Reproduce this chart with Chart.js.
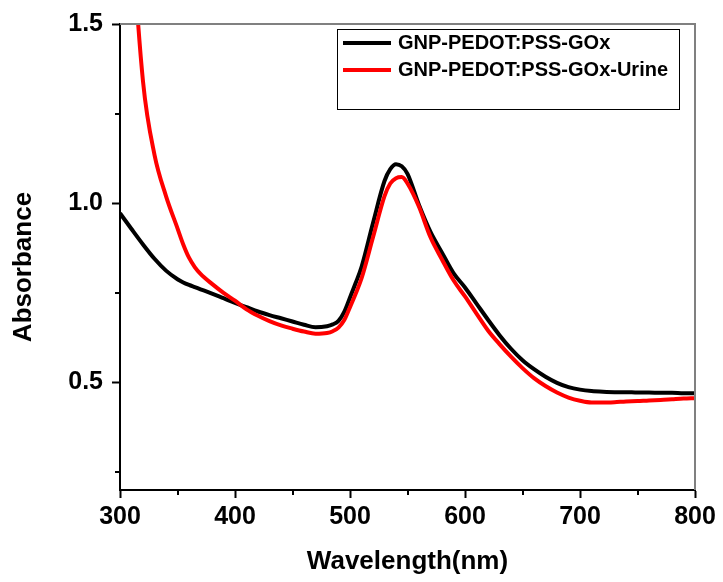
<!DOCTYPE html>
<html>
<head>
<meta charset="utf-8">
<script src="https://cdn.jsdelivr.net/npm/chart.js@4.4.0/dist/chart.umd.min.js"></script>
<style>
  html, body { margin: 0; padding: 0; background: #fff; }
</style>
</head>
<body>
<canvas id="myChart" width="723" height="582"></canvas>
<script>
const wavelengths = [
  300, 310, 320, 330, 340, 350, 355, 360, 365, 370, 380, 390,
  400, 410, 420, 430, 440, 450, 460, 470, 480, 485, 490, 495,
  500, 505, 510, 520, 530, 535, 540, 545, 550, 560, 570,
  580, 590, 600, 610, 620, 630, 640, 650, 660, 670,
  680, 690, 700, 710, 720, 730, 740, 750, 760, 770,
  780, 790, 800
]
const goxValues = [
  0.972, 0.928, 0.885, 0.845, 0.812, 0.788, 0.779, 0.772, 0.766, 0.760, 0.748, 0.735,
  0.722, 0.710, 0.698, 0.688, 0.679, 0.670, 0.661, 0.654, 0.657, 0.662, 0.672, 0.697,
  0.737, 0.778, 0.822, 0.945, 1.062, 1.095, 1.109, 1.103, 1.082, 0.995, 0.920,
  0.862, 0.805, 0.765, 0.720, 0.675, 0.632, 0.594, 0.562, 0.537, 0.516,
  0.499, 0.487, 0.480, 0.476, 0.474, 0.473, 0.473, 0.472, 0.472, 0.471,
  0.471, 0.470, 0.470
]
const urineValues = [
  2.40, 1.78, 1.34, 1.135, 1.02, 0.93, 0.885, 0.848, 0.822, 0.803, 0.775, 0.750,
  0.728, 0.704, 0.686, 0.671, 0.659, 0.650, 0.642, 0.636, 0.638, 0.643, 0.653, 0.674,
  0.710, 0.748, 0.790, 0.905, 1.020, 1.055, 1.070, 1.073, 1.055, 0.990, 0.905,
  0.843, 0.785, 0.740, 0.692, 0.645, 0.607, 0.572, 0.540, 0.512, 0.490,
  0.472, 0.458, 0.449, 0.444, 0.444, 0.445, 0.447, 0.448, 0.450, 0.451,
  0.453, 0.455, 0.456
]
const seriesNames = ['GNP-PEDOT:PSS-GOx', 'GNP-PEDOT:PSS-GOx-Urine']
const xTicks = [300, 400, 500, 600, 700, 800]
const xMinorTicks = [350, 450, 550, 650, 750]
const yTicks = [0.5, 1.0, 1.5]
const yMinorTicks = [0.25, 0.75, 1.25]

const FONT = '"Liberation Sans", Arial, sans-serif'

// minor ticks, top/right frame, axis titles and the boxed legend
const extras = {
  id: 'extras',
  afterDraw(chart) {
    const ctx = chart.ctx
    const a = chart.chartArea
    const x = chart.scales.x
    const y = chart.scales.y
    ctx.save()

    ctx.strokeStyle = '#808080'
    ctx.lineWidth = 2
    ctx.beginPath()
    ctx.moveTo(a.left, a.top)
    ctx.lineTo(a.right, a.top)
    ctx.lineTo(a.right, a.bottom)
    ctx.stroke()

    ctx.strokeStyle = '#000'
    ctx.lineWidth = 2
    ctx.beginPath()
    xMinorTicks.forEach(v => {
      const px = Math.round(x.getPixelForValue(v))
      ctx.moveTo(px, a.bottom)
      ctx.lineTo(px, a.bottom + 5)
    })
    yMinorTicks.forEach(v => {
      const py = Math.round(y.getPixelForValue(v))
      ctx.moveTo(a.left, py)
      ctx.lineTo(a.left - 5, py)
    })
    ctx.stroke()

    ctx.fillStyle = '#000'
    ctx.font = 'bold 26px ' + FONT
    ctx.textAlign = 'center'
    ctx.textBaseline = 'middle'
    ctx.fillText('Wavelength(nm)', (a.left + a.right) / 2, 562)
    ctx.save()
    ctx.translate(24, 267)
    ctx.rotate(-Math.PI / 2)
    ctx.fillText('Absorbance', 0, 0)
    ctx.restore()

    // legend box
    const lx = 337, ly = 29, lw = 342, lh = 80
    ctx.fillStyle = '#fff'
    ctx.fillRect(lx, ly, lw, lh)
    ctx.strokeStyle = '#000'
    ctx.lineWidth = 1
    ctx.strokeRect(lx + 0.5, ly + 0.5, lw, lh)
    ctx.font = 'bold 20px ' + FONT
    ctx.textAlign = 'left'
    chart.data.datasets.forEach((ds, i) => {
      const ry = 43 + i * 27
      ctx.strokeStyle = ds.borderColor
      ctx.lineWidth = 4
      ctx.beginPath()
      ctx.moveTo(343, ry)
      ctx.lineTo(391, ry)
      ctx.stroke()
      ctx.fillStyle = '#000'
      ctx.fillText(ds.label, 398, ry)
    })
    ctx.restore()
  }
}

const ctx = document.getElementById('myChart').getContext('2d')
const myChart = new Chart(ctx, {
  type: 'line',
  data: {
    labels: wavelengths,
    datasets: [
      {
        label: seriesNames[0],
        data: wavelengths.map((w, i) => ({ x: w, y: goxValues[i] })),
        borderColor: '#000000',
        borderWidth: 4,
        pointRadius: 0,
        cubicInterpolationMode: 'monotone',
        order: 1
      },
      {
        label: seriesNames[1],
        data: wavelengths.map((w, i) => ({ x: w, y: urineValues[i] })),
        borderColor: '#ff0000',
        borderWidth: 4,
        pointRadius: 0,
        cubicInterpolationMode: 'monotone',
        order: 0
      }
    ]
  },
  options: {
    responsive: false,
    animation: false,
    layout: { padding: { left: 0, top: 22, right: 28, bottom: 0 } },
    plugins: { legend: { display: false }, tooltip: { enabled: false } },
    scales: {
      x: {
        type: 'linear',
        min: 300,
        max: 800,
        afterBuildTicks: s => { s.ticks = xTicks.map(v => ({ value: v })) },
        afterFit: s => { s.height = 92 },
        grid: { drawOnChartArea: false, drawTicks: true, tickLength: 8, tickWidth: 2, tickColor: '#000' },
        border: { color: '#000', width: 2 },
        ticks: {
          color: '#000',
          font: { family: FONT, size: 25, weight: 'bold' },
          padding: 4,
          maxRotation: 0,
          autoSkip: false,
          callback: v => String(v)
        }
      },
      y: {
        type: 'linear',
        min: 0.2,
        max: 1.5,
        afterBuildTicks: s => { s.ticks = yTicks.map(v => ({ value: v })) },
        afterFit: s => { s.width = 120 },
        grid: { drawOnChartArea: false, drawTicks: true, tickLength: 8, tickWidth: 2, tickColor: '#000' },
        border: { color: '#000', width: 2 },
        ticks: {
          color: '#000',
          font: { family: FONT, size: 25, weight: 'bold' },
          padding: 9,
          autoSkip: false,
          callback: v => v.toFixed(1)
        }
      }
    }
  },
  plugins: [extras]
})
</script>
</body>
</html>
